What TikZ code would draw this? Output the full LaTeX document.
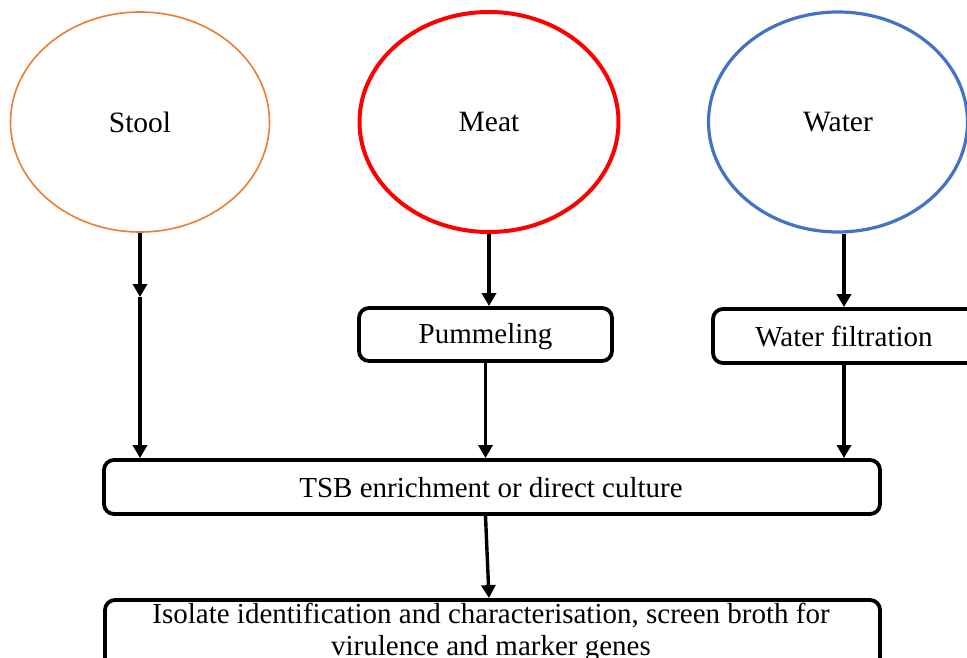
\documentclass[tikz,border=0pt]{standalone}
\usepackage{fontspec}
\setmainfont{Liberation Serif}
\usetikzlibrary{shapes.geometric,arrows.meta}
\definecolor{stoolc}{HTML}{ED7D31}
\definecolor{meatc}{HTML}{FF0000}
\definecolor{waterc}{HTML}{4472C4}
\tikzset{
  source/.style={ellipse, draw, inner sep=0pt, minimum width=259pt, minimum height=220pt,
    font=\fontsize{29.5}{32}\selectfont},
  stepbox/.style={draw, line width=3.8pt, rounded corners=10pt, inner sep=0pt},
  lbl/.style={inner sep=0pt, font=\fontsize{29}{32}\selectfont, align=center},
  arr/.style={line width=3.4pt, -{Triangle[length=13pt,width=14pt]}}
}
\begin{document}
\begin{tikzpicture}[x=1pt,y=-1pt]
\useasboundingbox (0,0) rectangle (967,658);
\clip (0,0) rectangle (967,658);
\fill[white] (0,0) rectangle (967,658);

% sample sources
\node[source, draw=stoolc, line width=1.6pt] (stool) at (140,122) {Stool};
\node[source, draw=meatc, line width=4pt] (meat) at (489,122) {Meat};
\node[source, draw=waterc, line width=3.2pt] (water) at (838,122) {Water};

% processing steps
\node[stepbox, minimum width=253pt, minimum height=53pt] (pum) at (485.5,334.5) {};
\node[lbl] (pumt) at (485.5,337) {Pummeling};
\node[stepbox, minimum width=277pt, minimum height=54pt] (wf) at (851.5,336) {};
\node[lbl] (wft) at (844,337) {Water filtration};
\node[stepbox, minimum width=776pt, minimum height=54pt] (tsb) at (492,487) {};
\node[lbl] (tsbt) at (491,488) {TSB enrichment or direct culture};
\node[stepbox, minimum width=775pt, minimum height=80pt] (bot) at (492.5,640) {};
\node[lbl] (bott) at (491,632) {Isolate identification and characterisation, screen broth for\\virulence and marker genes};

% connectors
\coordinate (smid) at (140,297);
\draw[arr] (stool.south) -- (smid);
\draw[arr] (smid) -- (smid |- tsb.north);
\draw[arr] (meat.south) -- (meat.south |- pum.north);
\draw[arr] (pum.south) -- (pum.south |- tsb.north);
\draw[arr] (wft |- water.south) -- (wft |- wf.north);
\draw[arr] (wft |- wf.south) -- (wft |- tsb.north);
\draw[arr] (tsb.south -| pum.south) -- (bot.north -| meat.south);
\end{tikzpicture}
\end{document}
